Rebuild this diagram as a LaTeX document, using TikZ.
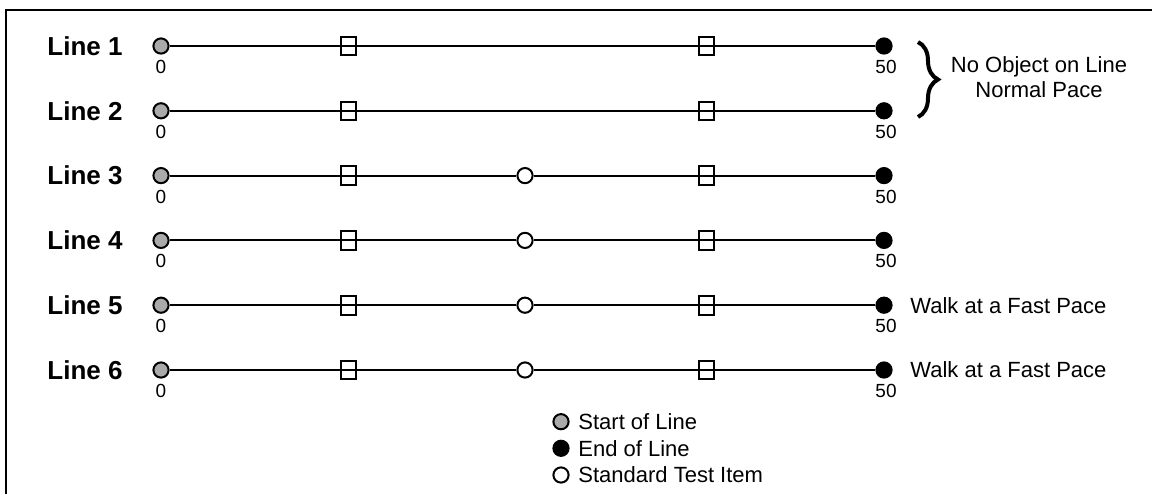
\documentclass[tikz,border=0pt]{standalone}
\usepackage{fontspec}
\setmainfont{Liberation Sans}
\usetikzlibrary{decorations.pathreplacing}
\definecolor{startgray}{RGB}{170,170,170}
\begin{document}
\begin{tikzpicture}[x=0.5pt,y=-0.5pt,
  track/.style={line width=1pt},
  frameline/.style={line width=1pt},
  dotbase/.style={circle,draw=black,line width=1pt,inner sep=0pt,minimum size=7.6pt},
  startpt/.style={dotbase,fill=startgray},
  endpt/.style={dotbase,fill=black},
  testpt/.style={dotbase,fill=white},
  marker/.style={rectangle,draw=black,line width=1pt,inner sep=0pt,minimum width=7.3pt,minimum height=9.3pt},
  linelabel/.style={font=\fontsize{13}{15}\selectfont\bfseries},
  tick/.style={font=\fontsize{9.5}{11}\selectfont,inner sep=0pt},
  note/.style={font=\fontsize{11}{12.5}\selectfont,inner sep=0pt},
]
\useasboundingbox (0,0) rectangle (1152,494);
% frame (only its left and top edges fall inside the page)
\coordinate (fa) at (6,494);
\coordinate (fb) at (6,10);
\coordinate (fc) at (1152,10);
\draw[frameline] (fa) -- (fb) -- (fc);

% the six walking lines
\foreach \i/\y in {1/46,2/110.8,3/175.6,4/240.4,5/305.2,6/370}{
  \node[linelabel] (l\i) at (85,\y) {Line \i};
  \node[startpt] (s\i) at (161,\y) {};
  \node[endpt] (e\i) at (884,\y) {};
  \node[marker] (a\i) at (348.7,\y) {};
  \node[marker] (b\i) at (706.7,\y) {};
  \node[tick] (z\i) at (161,\y+21) {0};
  \node[tick] (f\i) at (886,\y+21) {50};
}
\foreach \i in {1,2}{
  \draw[track] (s\i) -- (e\i);
}
\foreach \i/\y in {3/175.6,4/240.4,5/305.2,6/370}{
  \node[testpt] (c\i) at (525,\y) {};
  \draw[track] (s\i) -- (c\i) -- (e\i);
}

% notes on the right
\coordinate (bt) at (918,42);
\coordinate (bb) at (918,117);
\draw[decorate,decoration={brace,amplitude=10pt},line width=2pt] (bt) -- (bb);
\node[note,align=center] (n12) at (1039,77) {No Object on Line\\Normal Pace};
\node[note,anchor=west] (n5) at (910,305.2) {Walk at a Fast Pace};
\node[note,anchor=west] (n6) at (910,370) {Walk at a Fast Pace};

% legend
\node[startpt] (k1) at (561,421.7) {};
\node[endpt] (k2) at (561,448.3) {};
\node[testpt] (k3) at (561,475) {};
\node[note,anchor=west] (t1) at (578,421.7) {Start of Line};
\node[note,anchor=west] (t2) at (578,448.3) {End of Line};
\node[note,anchor=west] (t3) at (578,475) {Standard Test Item};
\end{tikzpicture}
\end{document}
